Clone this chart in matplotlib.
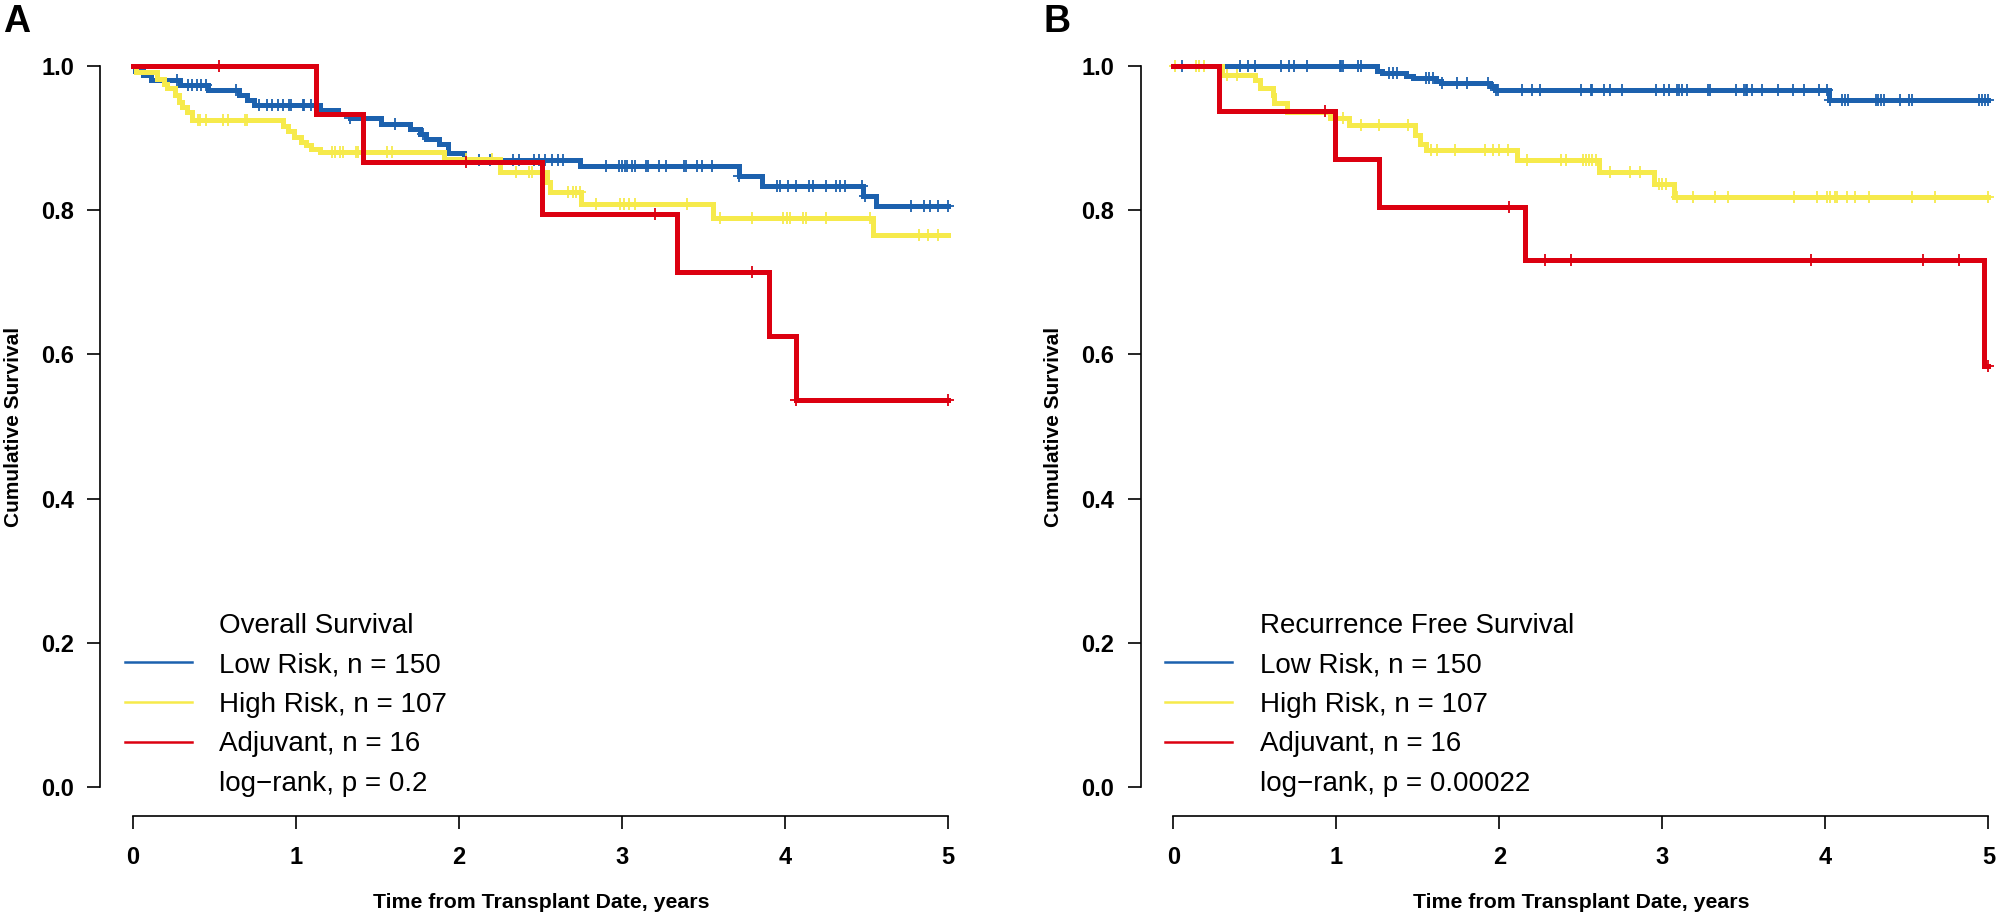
import numpy as np
import matplotlib.pyplot as plt
from matplotlib.lines import Line2D

plt.rcParams['font.family'] = ['Liberation Sans', 'DejaVu Sans']

# ---- data ----
groups = ['Low Risk, n = 150', 'High Risk, n = 107', 'Adjuvant, n = 16']
colors = ['#1C61AE', '#F6EA4B', '#DC0010']

# Panel A: overall survival, event times / survival after each event / censor times
a_low_t = [0.01, 0.06, 0.11, 0.29, 0.46, 0.65, 0.70, 0.74, 1.15, 1.26, 1.33, 1.52, 1.70,
           1.76, 1.80, 1.88, 1.93, 2.03, 2.74, 3.72, 3.86, 4.48, 4.56]
a_low_s = [0.993, 0.987, 0.980, 0.973, 0.966, 0.960, 0.953, 0.946, 0.939, 0.933, 0.927,
           0.920, 0.913, 0.906, 0.899, 0.892, 0.879, 0.869, 0.861, 0.847, 0.834, 0.819, 0.805]
a_low_c = [0.27, 0.34, 0.36, 0.39, 0.42, 0.45, 0.63, 0.77, 0.82, 0.85, 0.89, 0.92, 0.96,
           0.97, 1.04, 1.05, 1.09, 1.33, 1.61, 1.78, 2.12, 2.19, 2.33, 2.37, 2.46, 2.49,
           2.53, 2.57, 2.61, 2.64, 2.90, 2.98, 3.00, 3.02, 3.03, 3.06, 3.08, 3.15, 3.16,
           3.23, 3.27, 3.38, 3.39, 3.46, 3.49, 3.55, 3.72, 3.95, 3.97, 4.02, 4.07, 4.15,
           4.17, 4.25, 4.31, 4.34, 4.37, 4.47, 4.49, 4.77, 4.85, 4.89, 4.94, 5.00]

a_high_t = [0.02, 0.15, 0.19, 0.21, 0.26, 0.28, 0.30, 0.33, 0.36, 0.92, 0.95, 0.99, 1.03,
            1.06, 1.09, 1.15, 1.91, 2.25, 2.54, 2.56, 2.75, 3.56, 4.54]
a_high_s = [0.991, 0.982, 0.975, 0.969, 0.959, 0.950, 0.943, 0.936, 0.925, 0.916, 0.909,
            0.902, 0.895, 0.890, 0.885, 0.880, 0.871, 0.853, 0.839, 0.825, 0.808, 0.789, 0.765]
a_high_c = [0.40, 0.41, 0.45, 0.55, 0.58, 0.69, 0.70, 1.22, 1.24, 1.27, 1.29, 1.37, 1.38,
            1.56, 1.59, 2.04, 2.20, 2.35, 2.43, 2.45, 2.67, 2.70, 2.72, 2.74, 2.84, 2.99,
            3.01, 3.04, 3.08, 3.40, 3.60, 3.80, 3.99, 4.01, 4.03, 4.11, 4.13, 4.25, 4.52,
            4.82, 4.88, 4.94]

a_adj_t = [1.12, 1.41, 2.51, 3.34, 3.90, 4.07]
a_adj_s = [0.933, 0.867, 0.794, 0.714, 0.625, 0.536]
a_adj_c = [0.53, 2.04, 3.20, 3.80, 4.07, 5.00]

# Panel B: recurrence free survival
b_low_t = [1.25, 1.28, 1.43, 1.47, 1.61, 1.64, 1.94, 1.97, 4.02]
b_low_s = [0.993, 0.990, 0.986, 0.983, 0.979, 0.976, 0.972, 0.967, 0.952]
b_low_c = [0.05, 0.41, 0.46, 0.50, 0.66, 0.71, 0.74, 0.82, 1.02, 1.03, 1.04, 1.13, 1.15,
           1.32, 1.35, 1.37, 1.55, 1.57, 1.59, 1.65, 1.74, 1.80, 1.93, 1.98, 1.99, 2.14,
           2.20, 2.25, 2.50, 2.56, 2.57, 2.64, 2.68, 2.75, 2.96, 3.01, 3.04, 3.09, 3.10,
           3.12, 3.15, 3.28, 3.29, 3.45, 3.50, 3.51, 3.52, 3.55, 3.61, 3.71, 3.80, 3.87,
           3.96, 4.01, 4.03, 4.10, 4.12, 4.14, 4.31, 4.32, 4.34, 4.36, 4.46, 4.51, 4.53,
           4.94, 4.96, 4.98, 5.00]

b_high_t = [0.30, 0.50, 0.53, 0.61, 0.62, 0.70, 0.96, 1.08, 1.48, 1.51, 1.55, 2.11, 2.61,
            2.95, 3.07]
b_high_s = [0.987, 0.980, 0.969, 0.959, 0.948, 0.936, 0.927, 0.918, 0.904, 0.892, 0.883,
            0.870, 0.853, 0.836, 0.818]
b_high_c = [0.01, 0.14, 0.16, 0.19, 0.33, 0.39, 1.04, 1.15, 1.26, 1.44, 1.58, 1.62, 1.73,
            1.91, 1.96, 2.00, 2.05, 2.17, 2.38, 2.41, 2.51, 2.53, 2.55, 2.57, 2.59, 2.68,
            2.80, 2.86, 2.98, 3.00, 3.02, 3.09, 3.19, 3.32, 3.40, 3.81, 3.95, 4.01, 4.03,
            4.06, 4.07, 4.13, 4.18, 4.27, 4.53, 4.67, 5.00]

b_adj_t = [0.28, 0.99, 1.26, 2.16, 4.97]
b_adj_s = [0.938, 0.871, 0.804, 0.731, 0.584]
b_adj_c = [0.93, 2.06, 2.28, 2.44, 3.91, 4.60, 4.82, 5.00]

x_ticks = [0, 1, 2, 3, 4, 5]
y_ticks = [0.0, 0.2, 0.4, 0.6, 0.8, 1.0]

W, H = 2000, 918
fig = plt.figure(figsize=(20, 9.18), dpi=100)


def km(ax, t, s, c, color):
    tt = np.r_[0.0, t, 5.0]
    ss = np.r_[1.0, s, s[-1]]
    ax.step(tt, ss, where='post', color=color, lw=3.6, solid_joinstyle='miter')
    lev = np.r_[1.0, s]
    sc = lev[np.searchsorted(t, c, side='right')]
    ax.plot(c, sc, ls='none', marker='+', ms=8.5, mew=1.3, color=color)


def panel(left_px, curves, title, pval, letter):
    ax = fig.add_axes([left_px / W, 102.2 / H, 880.2 / W, 778.8 / H])
    for (t, s, c), col in zip(curves, colors):
        km(ax, t, s, c, col)
    ax.set_xlim(-0.2, 5.2)
    ax.set_ylim(-0.04, 1.04)
    for side in ['top', 'right']:
        ax.spines[side].set_visible(False)
    ax.spines['left'].set_bounds(0, 1)
    ax.spines['bottom'].set_bounds(0, 5)
    for side in ['left', 'bottom']:
        ax.spines[side].set_linewidth(1.2)
    ax.set_xticks(x_ticks)
    ax.set_yticks(y_ticks)
    ax.set_xticklabels([str(v) for v in x_ticks], fontweight='bold', fontsize=17)
    ax.set_yticklabels(['%.1f' % v for v in y_ticks], fontweight='bold', fontsize=17)
    ax.tick_params(axis='both', direction='out', length=9.5, width=1.2)
    ax.tick_params(axis='x', pad=12)
    ax.tick_params(axis='y', pad=9.5)

    # axis titles placed like R's mtext lines
    x0 = left_px + 0.2 * 163.3
    fig.text((x0 + 2.5 * 163.3) / W, 1 - 903 / H, 'Time from Transplant Date, years',
             fontweight='bold', fontsize=15.3, ha='center', va='center')
    fig.text((left_px - 87) / W, 1 - 427 / H, 'Cumulative Survival', rotation=90,
             fontweight='bold', fontsize=15, ha='center', va='center')

    blank = Line2D([], [], color='none')
    handles = [blank] + [Line2D([], [], color=col, lw=1.8) for col in colors] + [blank]
    labels = [title] + groups + [pval]
    ax.legend(handles, labels, loc='center left', bbox_to_anchor=(0.028, 0.1425),
              frameon=False, fontsize=20, handlelength=2.4, handletextpad=1.0,
              labelspacing=0.49, borderpad=0, borderaxespad=0)
    fig.text((left_px - 97) / W, 1 - 4 / H, letter, fontsize=27, fontweight='bold',
             ha='left', va='top')
    return ax


panel(100.4, [(a_low_t, a_low_s, a_low_c), (a_high_t, a_high_s, a_high_c),
              (a_adj_t, a_adj_s, a_adj_c)],
      'Overall Survival', 'log\u2212rank, p = 0.2', 'A')
panel(1140.8, [(b_low_t, b_low_s, b_low_c), (b_high_t, b_high_s, b_high_c),
               (b_adj_t, b_adj_s, b_adj_c)],
      'Recurrence Free Survival', 'log\u2212rank, p = 0.00022', 'B')

fig.savefig('out.png', dpi=100)
